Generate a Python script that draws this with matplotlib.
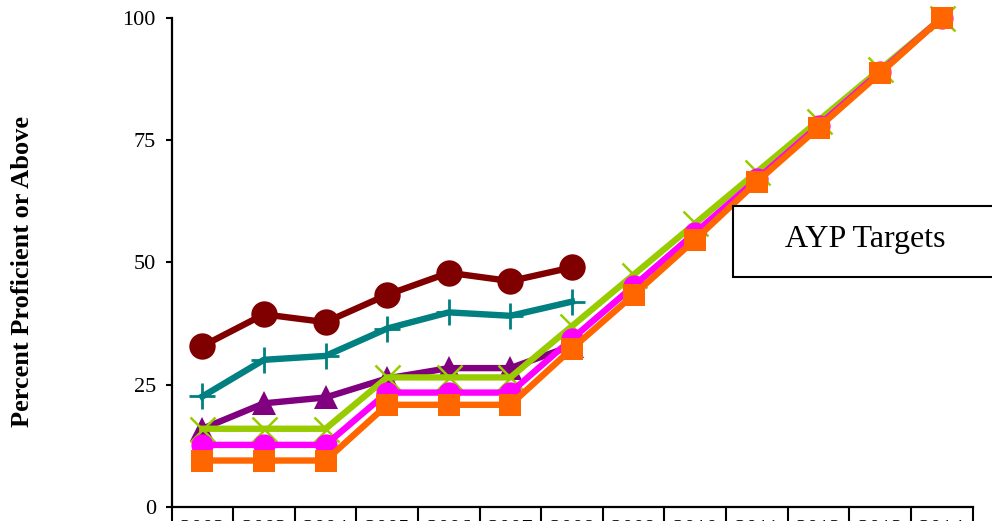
import matplotlib
matplotlib.use("Agg")
import matplotlib.pyplot as plt
from matplotlib.patches import Rectangle

years = ["2002", "2003", "2004", "2005", "2006", "2007", "2008",
         "2009", "2010", "2011", "2012", "2013", "2014"]

dark_red = [32.9, 39.4, 37.8, 43.4, 47.9, 46.2, 49.0]
teal = [22.6, 30.1, 30.9, 36.5, 39.8, 39.1, 42.0]
purple = [16.0, 21.2, 22.4, 26.3, 28.4, 28.4, 33.0]
green = [16.0, 16.0, 16.0, 26.5, 26.5, 26.5, 37.0, 47.5, 58.0, 68.5, 79.0, 89.5, 100.0]
magenta = [12.7, 12.7, 12.7, 23.4, 23.4, 23.4, 34.4, 45.2, 56.1, 67.0, 78.0, 89.0, 100.0]
orange = [9.5, 9.5, 9.5, 20.9, 20.9, 20.9, 32.4, 43.4, 54.7, 66.5, 77.6, 88.7, 100.0]

yticks = [0, 25, 50, 75, 100]
ylabel = "Percent Proficient or Above"
box_text = "AYP Targets"

plt.rcParams['font.family'] = ['Liberation Serif', 'DejaVu Serif']

fig = plt.figure(figsize=(9.92, 5.21), dpi=100)
ax = fig.add_axes([0.1729, 0.02687, 0.8075, 0.9386])

x_all = list(range(len(years)))
lw = 4.6

ax.plot(x_all[:len(dark_red)], dark_red, color='#800000', lw=lw, marker='o',
        ms=19, mec='#800000', mew=0, clip_on=False, zorder=3)
ax.plot(x_all[:len(teal)], teal, color='#008080', lw=lw, marker='+',
        ms=19, mew=2.0, mec='#008080', clip_on=False, zorder=3)
ax.plot(x_all[:len(purple)], purple, color='#800080', lw=lw, marker='^',
        ms=17.5, mec='#800080', mew=0, clip_on=False, zorder=3)
ax.plot(x_all, green, color='#99CC00', lw=lw, marker='x',
        ms=18, mew=1.8, mec='#99CC00', clip_on=False, zorder=4)
ax.plot(x_all, magenta, color='#FF00FF', lw=lw, marker='o',
        ms=16, mew=0, clip_on=False, zorder=5)
ax.plot(x_all, orange, color='#FF6600', lw=lw, marker='s',
        ms=15.6, mew=0, clip_on=False, zorder=6)

ax.set_xlim(-0.5, len(years) - 0.5)
ax.set_ylim(0, 100)
ax.set_yticks(yticks)
ax.set_yticklabels([str(t) for t in yticks])
ax.tick_params(axis='y', direction='out', length=4.3, width=1.5, pad=7,
               labelsize=16)
ax.set_xticks([])

for s in ['top', 'right']:
    ax.spines[s].set_visible(False)
for s in ['left', 'bottom']:
    ax.spines[s].set_linewidth(1.6)

# category table below the axis
xt = ax.get_xaxis_transform()
ax.vlines([i - 0.5 for i in range(len(years) + 1)], -0.08, 0.0,
          transform=xt, colors='black', lw=1.5, clip_on=False)
for i, yr in enumerate(years):
    ax.annotate(yr, xy=(i, 0), xycoords=xt, xytext=(0, -19.2),
                textcoords='offset points', ha='center', va='baseline',
                fontsize=16, annotation_clip=False)

fig.text(23 / 992, 1 - 271.7 / 521, ylabel, rotation=90, ha='center',
         va='center', fontsize=19, fontweight='bold')

rect = Rectangle((732.7 / 992, 1 - 277.3 / 521), (997 - 732.7) / 992,
                 (277.3 - 205.7) / 521, transform=fig.transFigure,
                 facecolor='white', edgecolor='black', lw=1.5, zorder=10)
fig.add_artist(rect)
fig.text(865 / 992, 1 - 246.7 / 521, box_text, ha='center', va='baseline',
         fontsize=23, zorder=11)

fig.savefig("out.png", dpi=100)
